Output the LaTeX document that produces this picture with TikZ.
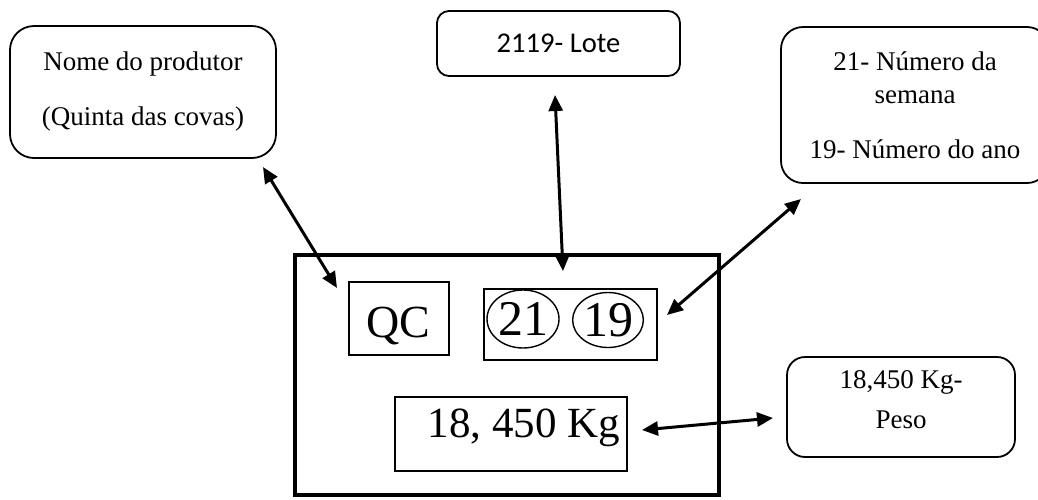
\documentclass[tikz,border=0pt]{standalone}
\usepackage{fontspec}
\setmainfont{Liberation Serif}
\newfontfamily\calibri{Carlito}
\usetikzlibrary{positioning, shapes, arrows.meta}

\begin{document}
\begin{tikzpicture}[x=0.5pt, y=-0.5pt,
          infobox/.style={draw, line width=0.9pt, align=center, inner sep=0pt,
                          font=\fontsize{13.5}{27.5}\selectfont},
          field/.style={draw, line width=1pt, inner sep=0pt},
          bigtext/.style={inner sep=0pt, font=\fontsize{23}{24}\selectfont},
          link/.style={line width=1.5pt,
                       {Triangle[length=8pt,width=7pt]}-{Triangle[length=8pt,width=7pt]}}]
          \useasboundingbox (0,0) rectangle (1038,499);

          \node[infobox, rounded corners=12pt, minimum width=133pt, minimum height=66pt]
               (prod) at (143,92) {Nome do produtor\\(Quinta das covas)};
          \node[infobox, rounded corners=6pt, minimum width=121.5pt, minimum height=32.5pt,
                font=\calibri\fontsize{14.3}{16}\selectfont]
               (lote) at (558.5,43.5) {2119- Lote};
          \node[infobox, rounded corners=11pt, minimum width=134pt, minimum height=78pt,
                font=\fontsize{13.5}{16.5}\selectfont]
               (data) at (915,105) {21- Número da\\semana\\[11pt]19- Número do ano};
          \node[infobox, rounded corners=9pt, minimum width=114pt, minimum height=50pt,
                font=\fontsize{13.5}{20}\selectfont, text depth=7pt]
               (peso) at (901,407) {18,450 Kg-\\Peso};

          \node[draw, line width=2pt, minimum width=212pt, minimum height=120pt]
               (main) at (507,375) {};
          \node[field, minimum width=50pt, minimum height=36.5pt] (qc) at (399,318.5) {};
          \node[bigtext, anchor=base] (qctext) at (398,337) {QC};
          \node[field, minimum width=86.5pt, minimum height=35.5pt] (nums) at (570.5,324.5) {};
          \node[ellipse, draw, line width=0.7pt, inner sep=0pt, font=\fontsize{25}{26}\selectfont,
                minimum width=36pt, minimum height=29pt]
               (n21) at (523,319) {21};
          \node[ellipse, draw, line width=0.7pt, inner sep=0pt, font=\fontsize{25}{26}\selectfont,
                minimum width=35pt, minimum height=27.5pt]
               (n19) at (608,320) {19};
          \node[field, minimum width=116pt, minimum height=37pt] (kg) at (511,434) {};
          \node[bigtext, anchor=base, font=\fontsize{21.5}{24}\selectfont] (kgtext) at (524,437) {18, 450 Kg};

          \coordinate (p1) at (263,167);
          \coordinate (p2) at (337,288);
          \coordinate (l1) at (555,95);
          \coordinate (l2) at (563,271);
          \coordinate (d1) at (801,199);
          \coordinate (d2) at (667,315);
          \coordinate (w1) at (642,430);
          \coordinate (w2) at (773,418);

          \draw[link] (p1) -- (p2);
          \draw[link] (l1) -- (l2);
          \draw[link] (d1) -- (d2);
          \draw[link] (w1) -- (w2);
\end{tikzpicture}
\end{document}
